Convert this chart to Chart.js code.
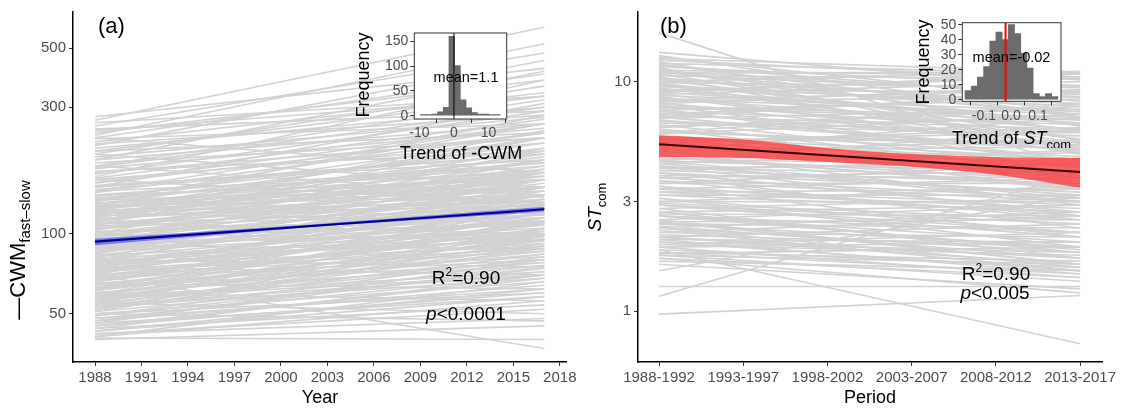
<!DOCTYPE html>
<html><head><meta charset="utf-8">
<script src="https://cdn.jsdelivr.net/npm/chart.js@4.4.1/dist/chart.umd.min.js"></script>
<style>
html,body{margin:0;padding:0;background:#fff;}
#wrap{position:relative;width:1123px;height:410px;overflow:hidden;background:#fff;}
canvas{position:absolute;}
</style></head><body>
<div id="wrap">
<canvas id="cA" width="585" height="410" style="left:0;top:0;width:585px;height:410px"></canvas>
<canvas id="cB" width="548" height="410" style="left:575px;top:0;width:548px;height:410px"></canvas>
<canvas id="iA" width="200" height="150" style="left:335px;top:18px;width:200px;height:150px"></canvas>
<canvas id="iB" width="200" height="140" style="left:900px;top:8px;width:200px;height:140px"></canvas>
</div>
<script>
// ---------------- DATA ----------------
// Panel (a): -CWM fast-slow, one line per community (value in 1988 and in 2017)
const aYears = [1988, 2017];
const aStart = [276,268,262,255,248,240,235,230,228,222,215,210,205,200,200,195,190,185,180,180,176,172,168,164,160,160,156,152,150,
147,145,143,140,138,136,134,132,130,128,126,124,122,120,119,117,115,113,112,110,108,107,105,104,102,100,99,97,96,95,93,92,90,89,88,86,85,84,82,81,80,78,77,76,75,74,73,72,71,70,69,68,67,66,65,64,63,62,61,60,59,58,57,56,55,54,53,52,51,50,49,48,47,46,45,44,43,42,41,40,40.5,70,
134,131,129,127,125,123,121,118,116,114,111,109,106,103,101,98,98,94,94,91,91,87,87,83,83,79,79,76,76,73,73,71,70,68,68,66,65,63,63,61,60,59,58,57,56,55,54,53,52,51,50,49,48,47,46,45,44,43,42,41,
150,145,140,135,130,126,122,118,113,108,104,100,96,92,88,85,82,78,74,70,66,62,58,55,52,
120,110,100,90,80,75,65,60,55,50,
245,230,218,205,190,178,170,162,155];
const aEnd = [420,600,330,480,290,380,520,170,260,340,450,300,240,360,150,275,410,230,320,140,250,205,290,380,220,130,260,190,310,
200,170,240,160,210,180,150,260,175,145,195,160,230,140,170,128,190,150,210,135,160,120,180,140,115,155,130,170,110,140,125,100,150,118,135,105,128,160,112,95,140,108,120,90,132,102,115,88,125,98,110,82,100,120,90,105,78,95,112,84,100,72,92,80,105,70,88,76,95,66,82,62,75,58,68,54,62,48,56,45,40,37,
185,150,220,140,170,205,132,160,245,138,175,125,150,190,118,145,108,160,118,130,102,140,112,125,98,115,95,128,100,108,92,140,86,115,94,104,80,110,88,96,76,120,86,70,98,78,90,68,84,72,60,74,70,64,80,60,70,58,52,66,
200,260,185,230,165,280,150,200,170,230,165,205,175,190,150,170,145,160,135,150,130,125,110,115,100,
110,100,95,88,75,70,62,56,50,47,
330,400,280,330,260,300,230,270,240];
const aFit = [93.4, 123.8];
const aBandYears = [1988, 2002, 2017];
const aBandUpper = [95.8, 108.5, 126.5];
const aBandLower = [90.6, 106.3, 121.2];
const aXTicks = [1988,1991,1994,1997,2000,2003,2006,2009,2012,2015,2018];
const aYTicks = [50,100,300,500];

// Panel (b): ST_com, one line per community (first and last period)
const bPeriods = ['1988-1992','1993-1997','1998-2002','2003-2007','2008-2012','2013-2017'];
const bStart = [13.4,13.0,12.6,12.2,11.8,11.5,11.2,11.0,10.7,10.5,10.3,10.0,9.8,9.6,9.4,9.2,9.0,8.8,8.6,8.4,8.2,8.0,7.9,
7.7,7.5,7.3,7.1,6.9,6.8,6.6,6.4,6.2,6.1,5.9,5.8,5.6,5.5,5.4,5.3,
5.1,5.0,4.9,4.7,4.6,4.5,4.4,4.3,4.2,4.1,4.0,3.9,3.8,3.7,3.6,3.5,3.4,3.3,3.2,3.1,3.0,2.95,
2.9,2.8,2.7,2.65,2.6,2.5,2.45,2.4,2.35,2.3,2.25,2.2,2.15,2.1,2.05,2.0,1.95,1.9,1.85,1.8,1.75,
1.5,1.28,1.16,0.97,16.3,1.6,1.7,
12.8,12.4,11.9,11.6,11.3,11.1,10.8,10.6,10.4,10.2,9.9,9.7,9.5,9.3,9.1,8.9,8.7,8.5,8.3,8.1,7.8,7.6,7.4,7.2,7.0,6.7,6.5,6.3,6.0,5.7,5.5,5.2,5.0,4.8,4.6,4.4,4.2,4.0,3.9,3.7,3.6,3.4,3.3,3.1,3.0,2.9,2.8,2.7,2.6,2.5,2.45,2.4,2.3,2.2,2.1,2.05,2.0,1.95,1.9,1.85,1.8,1.78,1.75,1.7,1.65,
12.0,10.9,9.0,8.0,7.0,6.0,5.0,4.5,
6.8,6.2,5.8,5.4,5.1,4.9,4.7,4.5,4.3,4.1,3.8,3.5,3.2,2.9,2.6,2.3,2.1];
const bEnd = [9.5,7.0,11.0,6.0,8.5,5.0,10.5,7.5,9.0,4.8,8.0,11.1,6.5,7.8,5.6,9.0,6.8,10.0,5.2,7.2,8.6,6.0,4.5,
6.8,8.4,5.4,6.2,7.6,4.2,5.8,6.9,3.8,5.1,7.2,4.6,5.5,3.4,6.3,4.0,
4.4,2.9,5.6,3.7,4.3,3.1,5.0,2.6,3.9,4.6,3.3,2.3,4.1,3.0,3.6,2.1,3.8,2.8,3.2,1.9,3.5,2.5,
2.2,3.1,1.8,2.6,2.0,2.9,1.6,2.3,1.7,2.7,1.5,2.1,1.9,2.4,1.45,1.8,2.2,1.4,0.72,1.65,1.35,
3.2,1.28,4.0,1.17,4.2,1.25,1.2,
8.2,10.2,7.0,9.6,6.4,8.8,5.6,10.3,7.2,6.1,9.4,5.4,8.0,6.6,10.5,4.9,7.4,6.2,9.2,5.1,7.0,4.4,6.5,8.8,5.0,6.0,4.0,7.8,5.3,3.6,6.0,3.9,5.2,3.4,4.9,3.0,4.4,2.7,3.8,2.5,4.4,2.9,3.4,2.2,3.0,2.4,1.7,2.9,2.2,1.6,2.5,1.9,1.55,2.6,1.7,2.0,1.5,1.75,2.0,1.55,1.45,1.9,1.6,1.4,1.5,
10.8,11.0,10.8,9.6,9.0,8.0,7.0,6.2,
5.0,4.7,4.2,4.6,3.8,4.1,3.5,4.0,3.2,3.6,3.1,2.6,2.7,2.1,1.85,1.8,1.6];
const bFit = [5.33, 4.04];
const bBandUpper = [5.82, 5.59, 5.12, 4.83, 4.69, 4.64];
const bBandLower = [4.69, 4.64, 4.46, 4.25, 3.93, 3.45];
const bYTicks = [1,3,10];

// Inset histograms (bin centres and counts)
const hAx = [-8.875,-7.225,-5.575,-3.925,-2.275,-0.625,1.025,2.675,4.325,5.975,7.625,9.275,10.925,12.575];
const hAcount = [2,2,3,8,17,160,101,32,16,6,3,3,2,2];
const hAmean = 1.1;
const hAXTicks = [-10,0,10];
const hAYTicks = [0,50,100,150];
const hBx = [-0.1586,-0.1357,-0.1128,-0.0899,-0.0670,-0.0441,-0.0212,0.0017,0.0246,0.0475,0.0704,0.0933,0.1162,0.1391,0.1620];
const hBcount = [6,9,15,22,39,45,40,50,44,31,21,4,2,4,2];
const hBmean = -0.02;
const hBXTicks = [-0.1,0,0.1];
const hBYTicks = [0,10,20,30,40,50];

// ---------------- HELPERS ----------------
const FONT = '"Liberation Sans", Arial, Helvetica, sans-serif';
const TICKCOL = '#4d4d4d';
const LINECOL = '#d2d2d2';

function rich(ctx, parts, x, y, align, rot) {
  ctx.save();
  ctx.translate(x, y);
  if (rot) ctx.rotate(rot);
  let w = 0;
  parts.forEach(p => { ctx.font = (p.it ? 'italic ' : '') + p.s + 'px ' + FONT; p.w = ctx.measureText(p.t).width; w += p.w; });
  let cx = align === 'left' ? 0 : -w / 2;
  const base = parts[0].s * 0.36;
  ctx.textAlign = 'left';
  ctx.textBaseline = 'alphabetic';
  parts.forEach(p => {
    ctx.font = (p.it ? 'italic ' : '') + p.s + 'px ' + FONT;
    ctx.fillStyle = p.c || '#000';
    ctx.fillText(p.t, cx, base + (p.dy || 0));
    cx += p.w;
  });
  ctx.restore();
}

function textPlugin(name, offX, offY, items) {
  return { id: name, afterDraw(chart) {
    const ctx = chart.ctx;
    items.forEach(it => rich(ctx, it.parts, it.x - offX, it.y - offY, it.align, it.rot));
  }};
}

function fixedTicks(list) { return s => { s.ticks = list.map(v => ({ value: v })); }; }

function axisCommon(size, cb) {
  return {
    ticks: { color: TICKCOL, font: { family: FONT, size: size }, padding: 3, maxRotation: 0, autoSkip: false, callback: cb },
    grid: { display: true, drawOnChartArea: false, drawTicks: true, tickLength: 4, color: '#333', lineWidth: 1 },
    border: { display: true, color: '#000', width: 1.5 }
  };
}

// ---------------- PANEL (a) ----------------
(function () {
  const ds = [];
  ds.push({ data: aYears.map((x, i) => ({ x, y: aFit[i] })), borderColor: '#00008b', borderWidth: 2.2, pointRadius: 0, fill: false });
  ds.push({ data: aBandYears.map((x, i) => ({ x, y: aBandUpper[i] })), borderWidth: 0, pointRadius: 0, backgroundColor: 'rgba(60,60,255,0.6)', fill: '+1' });
  ds.push({ data: aBandYears.map((x, i) => ({ x, y: aBandLower[i] })), borderWidth: 0, pointRadius: 0, fill: false });
  const n = Math.min(aStart.length, aEnd.length);
  for (let i = 0; i < n; i++) {
    ds.push({ data: [{ x: aYears[0], y: aStart[i] }, { x: aYears[1], y: aEnd[i] }], borderColor: LINECOL, borderWidth: 1.6, pointRadius: 0, fill: false });
  }
  const xs = axisCommon(15, v => String(v)), ys = axisCommon(15, v => String(v));
  new Chart(document.getElementById('cA'), {
    type: 'line',
    data: { datasets: ds },
    options: {
      responsive: false, animation: false, devicePixelRatio: 1, events: [],
      layout: { padding: { left: 0, top: 7, right: 19, bottom: 0 } },
      plugins: { legend: { display: false }, tooltip: { enabled: false } },
      scales: {
        x: Object.assign(xs, { type: 'linear', min: 1986.58, max: 2018.4, afterBuildTicks: fixedTicks(aXTicks),
          afterFit: s => { s.height = 48; } }),
        y: Object.assign(ys, { type: 'logarithmic', min: 32.9, max: 685, afterBuildTicks: fixedTicks(aYTicks),
          afterFit: s => { s.width = 73; } })
      }
    },
    plugins: [textPlugin('txtA', 0, 0, [
      { parts: [{ t: '(a)', s: 22 }], x: 98, y: 25, align: 'left' },
      { parts: [{ t: 'Year', s: 18 }], x: 320, y: 397 },
      { parts: [{ t: '\u2014CWM', s: 22 }, { t: 'fast\u2013slow', s: 15, dy: 5 }], x: 17, y: 250, rot: -Math.PI / 2 },
      { parts: [{ t: 'R', s: 19 }, { t: '2', s: 12, dy: -8 }, { t: '=0.90', s: 19 }], x: 466, y: 277 },
      { parts: [{ t: 'p', s: 19, it: true }, { t: '<0.0001', s: 19 }], x: 466, y: 313 }
    ])]
  });
})();

// ---------------- PANEL (b) ----------------
(function () {
  const ds = [];
  const last = bPeriods.length - 1;
  ds.push({ data: [{ x: 0, y: bFit[0] }, { x: last, y: bFit[1] }], borderColor: '#3a0000', borderWidth: 2, pointRadius: 0, fill: false });
  ds.push({ data: bBandUpper.map((v, i) => ({ x: i, y: v })), borderWidth: 0, pointRadius: 0, backgroundColor: 'rgba(255,40,40,0.7)', fill: '+1', tension: 0.3 });
  ds.push({ data: bBandLower.map((v, i) => ({ x: i, y: v })), borderWidth: 0, pointRadius: 0, fill: false, tension: 0.3 });
  const n = Math.min(bStart.length, bEnd.length);
  for (let i = 0; i < n; i++) {
    ds.push({ data: [{ x: 0, y: bStart[i] }, { x: last, y: bEnd[i] }], borderColor: LINECOL, borderWidth: 1.6, pointRadius: 0, fill: false });
  }
  const xs = axisCommon(15, v => bPeriods[Math.round(v)] || ''), ys = axisCommon(15, v => String(v));
  new Chart(document.getElementById('cB'), {
    type: 'line',
    data: { datasets: ds },
    options: {
      responsive: false, animation: false, devicePixelRatio: 1, events: [],
      layout: { padding: { left: 0, top: 7, right: 21, bottom: 0 } },
      plugins: { legend: { display: false }, tooltip: { enabled: false } },
      scales: {
        x: Object.assign(xs, { type: 'linear', min: -0.25, max: 5.26, afterBuildTicks: fixedTicks(bPeriods.map((p, i) => i)),
          afterFit: s => { s.height = 48; } }),
        y: Object.assign(ys, { type: 'logarithmic', min: 0.611, max: 20.1, afterBuildTicks: fixedTicks(bYTicks),
          afterFit: s => { s.width = 63; } })
      }
    },
    plugins: [textPlugin('txtB', 575, 0, [
      { parts: [{ t: '(b)', s: 22 }], x: 660, y: 25, align: 'left' },
      { parts: [{ t: 'Period', s: 18 }], x: 870, y: 397 },
      { parts: [{ t: 'ST', s: 19, it: true }, { t: 'com', s: 13, dy: 5 }], x: 594, y: 207, rot: -Math.PI / 2 },
      { parts: [{ t: 'R', s: 19 }, { t: '2', s: 12, dy: -8 }, { t: '=0.90', s: 19 }], x: 996, y: 273 },
      { parts: [{ t: 'p', s: 19, it: true }, { t: '<0.005', s: 19 }], x: 995, y: 292 }
    ])]
  });
})();

// ---------------- INSETS ----------------
const panelBox = {
  id: 'panelBox',
  beforeDraw(chart) {
    const a = chart.chartArea, c = chart.ctx;
    c.save(); c.fillStyle = '#fff'; c.fillRect(a.left, a.top, a.right - a.left, a.bottom - a.top); c.restore();
  },
  afterDraw(chart) {
    const a = chart.chartArea, c = chart.ctx;
    c.save(); c.strokeStyle = '#333'; c.lineWidth = 1; c.strokeRect(a.left, a.top, a.right - a.left, a.bottom - a.top); c.restore();
  }
};

function inset(id, offX, offY, xs, counts, mean, meanColor, xmin, xmax, ymin, ymax, xt, yt, xfmt, pad, yW, xH, texts) {
  const xa = axisCommon(14, xfmt), ya = axisCommon(14, v => String(v));
  xa.border = { display: false }; ya.border = { display: false };
  xa.ticks.padding = 2; ya.ticks.padding = 2;
  new Chart(document.getElementById(id), {
    type: 'bar',
    data: { datasets: [
      { type: 'line', data: [{ x: mean, y: ymin }, { x: mean, y: ymax }], borderColor: meanColor, borderWidth: meanColor === '#000' ? 1 : 2, pointRadius: 0, fill: false },
      { type: 'bar', data: xs.map((x, i) => ({ x, y: counts[i] })), backgroundColor: '#6b6b6b', barPercentage: 1, categoryPercentage: 1, borderWidth: 0 }
    ] },
    options: {
      responsive: false, animation: false, devicePixelRatio: 1, events: [],
      layout: { padding: pad },
      plugins: { legend: { display: false }, tooltip: { enabled: false } },
      scales: {
        x: Object.assign(xa, { type: 'linear', offset: false, min: xmin, max: xmax, afterBuildTicks: fixedTicks(xt), afterFit: s => { s.height = xH; } }),
        y: Object.assign(ya, { type: 'linear', min: ymin, max: ymax, afterBuildTicks: fixedTicks(yt), afterFit: s => { s.width = yW; } })
      }
    },
    plugins: [panelBox, textPlugin('txt' + id, offX, offY, texts)]
  });
}

inset('iA', 335, 18, hAx, hAcount, 0, '#000', -11.5, 15.3, -6.7, 166.7, hAXTicks, hAYTicks, v => String(v),
  { left: 0, top: 15, right: 28.3, bottom: 0 }, 79.3, 49, [
    { parts: [{ t: 'Frequency', s: 18 }], x: 363, y: 75, rot: -Math.PI / 2 },
    { parts: [{ t: 'Trend of -CWM', s: 18 }], x: 461, y: 153 },
    { parts: [{ t: 'mean=' + hAmean, s: 14.5 }], x: 466, y: 77 }
  ]);

inset('iB', 900, 8, hBx, hBcount, hBmean, '#ff0000', -0.180, 0.185, -1.1, 51.3, hBXTicks, hBYTicks, v => v.toFixed(1),
  { left: 0, top: 14.7, right: 39, bottom: 0 }, 62.3, 46.7, [
    { parts: [{ t: 'Frequency', s: 18 }], x: 923, y: 62, rot: -Math.PI / 2 },
    { parts: [{ t: 'Trend of ', s: 18 }, { t: 'ST', s: 18, it: true }, { t: 'com', s: 13, dy: 5 }], x: 1011.5, y: 138 },
    { parts: [{ t: 'mean=' + hBmean, s: 14.5 }], x: 1011.5, y: 57 }
  ]);
</script>
</body></html>
